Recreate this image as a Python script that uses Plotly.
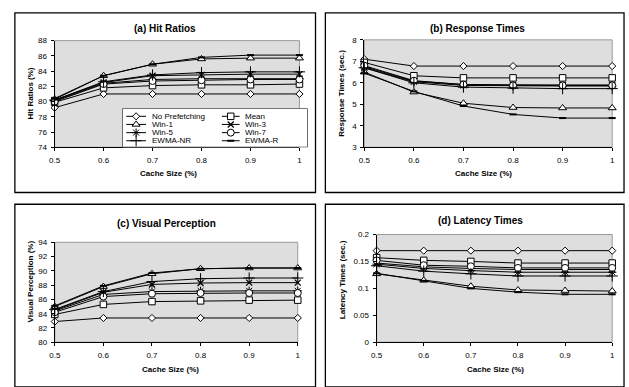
import plotly.graph_objects as go

W, H = 629, 387

cache_size = [0.5, 0.6, 0.7, 0.8, 0.9, 1.0]
series_names = ["No Prefetching", "Mean", "Win-1", "Win-3", "Win-5", "Win-7", "EWMA-NR", "EWMA-R"]

# (a) Hit Ratios (%)
hit_no_pref = [79.2, 81.0, 81.0, 81.0, 81.0, 81.0]
hit_mean = [79.9, 81.8, 82.1, 82.2, 82.2, 82.3]
hit_win1 = [80.3, 83.4, 84.9, 85.6, 85.7, 85.7]
hit_win3 = [80.2, 82.5, 83.4, 83.5, 83.6, 83.6]
hit_win5 = [80.1, 82.4, 82.9, 83.0, 83.0, 83.0]
hit_win7 = [80.0, 82.3, 82.7, 82.8, 82.9, 82.9]
hit_ewma_nr = [80.2, 82.6, 83.5, 83.8, 83.9, 83.9]
hit_ewma_r = [80.4, 83.4, 84.9, 85.8, 86.1, 86.1]

# (b) Response Times (sec.)
resp_no_pref = [7.1, 6.78, 6.78, 6.78, 6.78, 6.78]
resp_mean = [6.95, 6.33, 6.23, 6.23, 6.23, 6.23]
resp_win1 = [6.5, 5.57, 5.05, 4.85, 4.83, 4.83]
resp_win3 = [6.75, 6.08, 5.92, 5.9, 5.9, 5.9]
resp_win5 = [6.7, 6.05, 5.88, 5.85, 5.85, 5.85]
resp_win7 = [6.8, 6.1, 5.92, 5.88, 5.88, 5.88]
resp_ewma_nr = [6.7, 6.0, 5.8, 5.75, 5.73, 5.73]
resp_ewma_r = [6.45, 5.6, 4.92, 4.53, 4.36, 4.36]

# (c) Visual Perception (%)
vis_no_pref = [82.9, 83.4, 83.4, 83.4, 83.4, 83.4]
vis_mean = [83.9, 85.3, 85.7, 85.8, 85.9, 85.9]
vis_win1 = [85.0, 87.8, 89.6, 90.3, 90.4, 90.4]
vis_win3 = [84.5, 87.0, 88.1, 88.3, 88.35, 88.35]
vis_win5 = [84.4, 86.7, 87.1, 87.2, 87.2, 87.2]
vis_win7 = [84.2, 86.4, 86.8, 86.9, 86.9, 86.9]
vis_ewma_nr = [84.6, 87.1, 88.5, 88.9, 89.0, 89.0]
vis_ewma_r = [85.1, 87.9, 89.7, 90.3, 90.4, 90.4]

# (d) Latency Times (sec.)
lat_no_pref = [0.17, 0.17, 0.17, 0.17, 0.17, 0.17]
lat_mean = [0.157, 0.152, 0.150, 0.147, 0.147, 0.147]
lat_win1 = [0.127, 0.115, 0.104, 0.097, 0.096, 0.095]
lat_win3 = [0.147, 0.140, 0.137, 0.135, 0.135, 0.135]
lat_win5 = [0.145, 0.137, 0.133, 0.130, 0.130, 0.130]
lat_win7 = [0.152, 0.143, 0.141, 0.138, 0.138, 0.138]
lat_ewma_nr = [0.142, 0.132, 0.127, 0.123, 0.123, 0.123]
lat_ewma_r = [0.128, 0.114, 0.100, 0.093, 0.089, 0.089]

panels = [
    dict(title="(a) Hit Ratios", ytitle="Hit Ratios (%)", yrange=[74, 88], dtick=2,
         data=[hit_no_pref, hit_mean, hit_win1, hit_win3, hit_win5, hit_win7, hit_ewma_nr, hit_ewma_r]),
    dict(title="(b) Response Times", ytitle="Response Times (sec.)", yrange=[3, 8], dtick=1,
         data=[resp_no_pref, resp_mean, resp_win1, resp_win3, resp_win5, resp_win7, resp_ewma_nr, resp_ewma_r]),
    dict(title="(c) Visual Perception", ytitle="Visual Perception (%)", yrange=[80, 94], dtick=2,
         data=[vis_no_pref, vis_mean, vis_win1, vis_win3, vis_win5, vis_win7, vis_ewma_nr, vis_ewma_r]),
    dict(title="(d) Latency Times", ytitle="Latency Times (sec.)", yrange=[0, 0.2], dtick=0.05,
         data=[lat_no_pref, lat_mean, lat_win1, lat_win3, lat_win5, lat_win7, lat_ewma_nr, lat_ewma_r]),
]

# marker styles per series (Excel-like)
styles = [
    dict(symbol="diamond", size=5.5, color="white", line=dict(color="black", width=1)),
    dict(symbol="square", size=6.5, color="white", line=dict(color="black", width=1)),
    dict(symbol="triangle-up", size=7, color="white", line=dict(color="black", width=1)),
    dict(symbol="x-thin-open", size=6, color="black", line=dict(color="black", width=1.3)),
    dict(symbol="asterisk-open", size=7, color="black", line=dict(color="black", width=1)),
    dict(symbol="circle", size=7, color="white", line=dict(color="black", width=1)),
    dict(symbol="cross-thin-open", size=8, color="black", line=dict(color="black", width=1)),
    dict(symbol="line-ew-open", size=5, color="black", line=dict(color="black", width=2)),
]

FONT = "Arial, Liberation Sans, sans-serif"

def px(x):
    return x / W

def py(y):
    return 1 - y / H

# layout geometry (pixels)
geo = [
    dict(x=(49.3, 297.7), y=(146.7, 37.5), box=(9, 9, 314, 193), tx=161, ty=25, ax=(25, 92), xt=(165, 174)),
    dict(x=(363.5, 615), y=(146.7, 36.7), box=(324, 9, 627, 193), tx=478, ty=25, ax=(340, 91.7), xt=(484, 173.5)),
    dict(x=(49.5, 296), y=(346.3, 244), box=(9, 205, 314, 392), tx=163, ty=225, ax=(25, 284.5), xt=(167, 374.7)),
    dict(x=(376, 615), y=(346.3, 236), box=(324, 205, 627, 392), tx=481, ty=222, ax=(341.7, 282), xt=(497, 374.7)),
]

fig = go.Figure()
layout = dict(width=W, height=H, margin=dict(l=0, r=0, t=0, b=0),
              paper_bgcolor="white", plot_bgcolor="#dedede",
              showlegend=False, font=dict(family=FONT, size=8, color="black"))
shapes = []
annotations = []

for i, (p, g) in enumerate(zip(panels, geo)):
    n = "" if i == 0 else str(i + 1)
    xa, ya = "x" + n, "y" + n
    for k, (name, vals) in enumerate(zip(series_names, p["data"])):
        fig.add_trace(go.Scatter(x=cache_size, y=vals, name=name, mode="lines+markers",
                                 xaxis=xa, yaxis=ya, cliponaxis=False,
                                 line=dict(color="black", width=1), marker=styles[k]))
    layout["xaxis" + n] = dict(domain=[px(g["x"][0]), px(g["x"][1])], anchor=ya, range=[0.5, 1],
                               tick0=0.5, dtick=0.1, showline=True, linecolor="black", linewidth=1,
                               ticks="outside", ticklen=3, tickcolor="black", showgrid=False,
                               zeroline=False, tickfont=dict(size=8), ticklabelstandoff=2)
    layout["yaxis" + n] = dict(domain=[py(g["y"][0]), py(g["y"][1])], anchor=xa, range=p["yrange"],
                               dtick=p["dtick"], showline=True, linecolor="black", linewidth=1,
                               ticks="outside", ticklen=3, tickcolor="black", showgrid=False,
                               zeroline=False, tickfont=dict(size=8), ticklabelstandoff=2)
    # plot area gray border
    shapes.append(dict(type="rect", xref=xa + " domain", yref=ya + " domain", x0=0, x1=1, y0=0, y1=1,
                       line=dict(color="#9a9a9a", width=1), layer="below"))
    # panel frame
    b = g["box"]
    shapes.append(dict(type="rect", xref="paper", yref="paper", x0=px(b[0]), x1=px(b[2]),
                       y0=py(b[3]), y1=py(b[1]), line=dict(color="black", width=1.3), layer="below"))
    annotations.append(dict(text="<b>" + p["title"] + "</b>", xref="paper", yref="paper",
                            x=px(g["tx"]), y=py(g["ty"]), showarrow=False, xanchor="center",
                            yanchor="middle", font=dict(size=10)))
    annotations.append(dict(text="<b>" + p["ytitle"] + "</b>", xref="paper", yref="paper",
                            x=px(g["ax"][0]), y=py(g["ax"][1]), showarrow=False, textangle=-90,
                            xanchor="center", yanchor="middle", font=dict(size=8)))
    annotations.append(dict(text="<b>Cache Size (%)</b>", xref="paper", yref="paper",
                            x=px(g["xt"][0]), y=py(g["xt"][1]), showarrow=False, xanchor="center",
                            yanchor="middle", font=dict(size=8)))

# legend drawn inside panel (a) on an overlay axis measured in pixels
LX0, LX1, LY0, LY1 = 118, 306, 107, 146.7
layout["xaxis5"] = dict(domain=[px(LX0), px(LX1)], range=[LX0, LX1], visible=False, anchor="y5")
layout["yaxis5"] = dict(domain=[py(LY1), py(LY0)], range=[LY1, LY0], visible=False, anchor="x5")
fig.add_trace(go.Scatter(x=[LX0, LX1, LX1, LX0, LX0], y=[LY0, LY0, LY1, LY1, LY0], mode="lines",
                         fill="toself", fillcolor="white", line=dict(color="black", width=1),
                         xaxis="x5", yaxis="y5", hoverinfo="skip", cliponaxis=False))
rows = [115, 123.3, 131.7, 140]
cols = [(122, 142, 146), (219, 237, 240)]
for k, name in enumerate(series_names):
    r, c = rows[k // 2], cols[k % 2]
    fig.add_trace(go.Scatter(x=[c[0], c[1]], y=[r, r], mode="lines", line=dict(color="black", width=1),
                             xaxis="x5", yaxis="y5", hoverinfo="skip", cliponaxis=False))
    fig.add_trace(go.Scatter(x=[(c[0] + c[1]) / 2], y=[r], mode="markers", marker=styles[k],
                             xaxis="x5", yaxis="y5", hoverinfo="skip", cliponaxis=False))
    annotations.append(dict(text=name, xref="paper", yref="paper", x=px(c[2]), y=py(r),
                            showarrow=False, xanchor="left", yanchor="middle", font=dict(size=8)))

layout["shapes"] = shapes
layout["annotations"] = annotations
fig.update_layout(**layout)
fig.write_html("out.html", config={"displayModeBar": False},
               post_script="document.body.style.margin='0px';document.body.style.overflow='hidden';")
